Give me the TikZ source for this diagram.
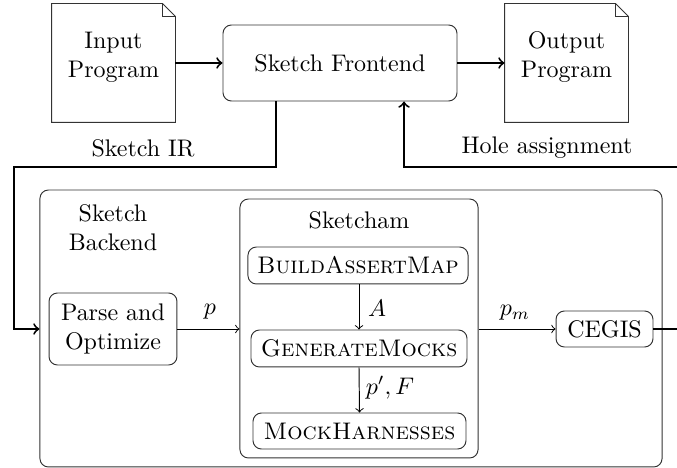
\documentclass[tikz,border=0pt]{standalone}
\usetikzlibrary{calc}
\begin{document}
\begin{tikzpicture}[x=0.41667pt,y=-0.41667pt,
  boxst/.style={draw=black!80,rounded corners=3.5pt,inner sep=0pt,align=center},
  docst/.style={inner sep=0pt,minimum width=51.25pt,minimum height=49.17pt},
  thickarr/.style={line width=0.8pt,->},
  thinarr/.style={line width=0.4pt,->},
  lbl/.style={inner sep=0pt}]
\useasboundingbox (0,0) rectangle (677,468);
% documents
\node[docst] (in) at (113.5,63) {};
\node[docst] (out) at (566.5,63) {};
\foreach \d in {in,out}{
  \draw[draw=black!80,line width=0.4pt] (\d.south west) -- (\d.north west) -- ([xshift=-5.4pt]\d.north east) -- ([yshift=-5.4pt]\d.north east) -- (\d.south east) -- cycle;
  \draw[draw=black!80,line width=0.4pt] ([xshift=-5.4pt]\d.north east) -- ([xshift=-5.4pt,yshift=-5.4pt]\d.north east) -- ([yshift=-5.4pt]\d.north east);
}
\node[lbl,align=center] (intext) at (113.5,57) {Input\\Program};
\node[lbl,align=center] (outtext) at (566.5,57) {Output\\Program};
% frontend
\node[boxst,minimum width=97.5pt,minimum height=31.67pt] (fe) at (340,63) {Sketch Frontend};
% backend
\node[boxst,minimum width=259.2pt,minimum height=115.4pt] (bk) at (351,328.5) {};
\node[lbl,align=center] (bklbl) at (113,227.5) {Sketch\\Backend};
\node[boxst,minimum width=53.3pt,minimum height=30pt] (parse) at (113,329) {Parse and\\Optimize};
\node[boxst,minimum width=99.2pt,minimum height=107.9pt] (sk) at (359,328.5) {};
\node[lbl] (sklbl) at (359,220) {Sketcham};
\node[boxst,minimum width=91.7pt,minimum height=15.4pt] (bam) at (358,265.5) {\textsc{BuildAssertMap}};
\node[boxst,minimum width=90pt,minimum height=15.4pt] (gm) at (359,348.5) {\textsc{GenerateMocks}};
\node[boxst,minimum width=88.75pt,minimum height=15pt] (mh) at (359.5,431) {\textsc{MockHarnesses}};
\node[boxst,minimum width=40.4pt,minimum height=15pt] (cegis) at (604.5,329) {CEGIS};
% coordinates
\coordinate (irX) at (276,167);
\coordinate (irL) at (14,167);
\coordinate (holeR) at (682,167);
\coordinate (holeX) at (404,167);
% connectors
\draw[thickarr] (in.east |- fe.west) -- (fe.west);
\draw[thickarr] (fe.east) -- (out.west |- fe.east);
\draw[thickarr] (fe.south -| irX) -- (irX) -- (irL) |- (bk.west |- parse.west);
\draw[thickarr] (cegis.east) -| (holeR) -- (holeX) -- (fe.south -| holeX);
\draw[thinarr] (parse.east) -- (sk.west |- parse.east);
\draw[thinarr] (sk.east |- cegis.west) -- (cegis.west);
\draw[thinarr] (bam.south -| gm.north) -- (gm.north);
\draw[thinarr] (gm.south) -- (mh.south |- mh.north);
% labels
\node[lbl] (irlbl) at (143,148) {Sketch IR};
\node[lbl] (holelbl) at (547,148) {Hole assignment};
\node[lbl] (plbl) at (210,312) {$p$};
\node[lbl] (pmlbl) at (515,313) {$p_m$};
\node[lbl] (albl) at (377,308) {$A$};
\node[lbl] (pflbl) at (390,388) {$p',F$};
\end{tikzpicture}
\end{document}
